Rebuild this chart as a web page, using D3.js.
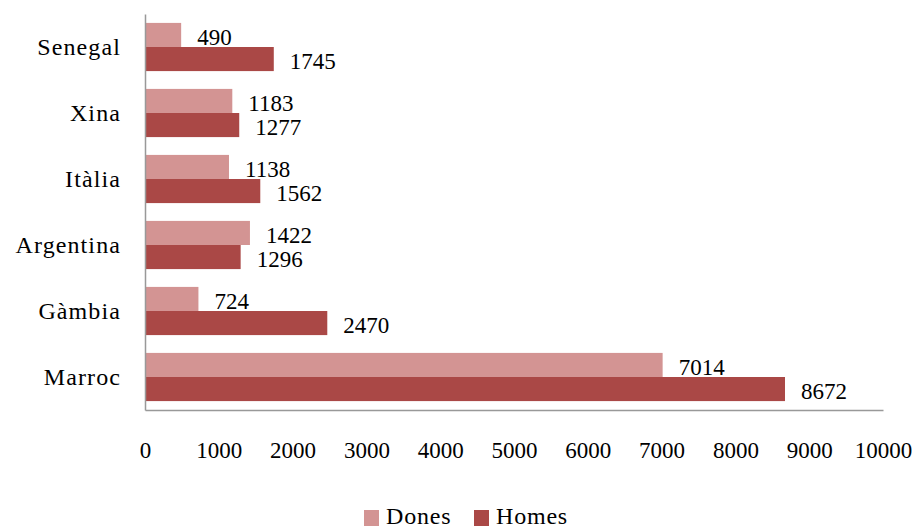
<!DOCTYPE html>
<html>
<head>
<meta charset="utf-8">
<script src="https://cdn.jsdelivr.net/npm/d3@7"></script>
<style>
  body { margin: 0; background: #fff; }
  text { font-family: "Liberation Serif", "Times New Roman", serif; fill: #000; }
</style>
</head>
<body>
<div id="content"><svg width="917" height="529"></svg></div>
<script>
// data
var countries = ["Senegal", "Xina", "Itàlia", "Argentina", "Gàmbia", "Marroc"];
var dones = [490, 1183, 1138, 1422, 724, 7014];
var homes = [1745, 1277, 1562, 1296, 2470, 8672];
var series = ["Dones", "Homes"];
var xTicks = [0, 1000, 2000, 3000, 4000, 5000, 6000, 7000, 8000, 9000, 10000];

var colors = ["#d39493", "#aa4846"];

var svg = d3.select("svg");
var margin = {top: 14, right: 34, bottom: 119, left: 145};
var width = 917 - margin.left - margin.right,
    height = 529 - margin.top - margin.bottom;

var g = svg.append("g")
    .attr("transform", "translate(" + margin.left + "," + margin.top + ")");

var x = d3.scaleLinear().domain([0, 10000]).range([0, width]);
var y = d3.scaleBand().domain(countries).range([0, height]).paddingInner(0.27).paddingOuter(0.135);
var y1 = d3.scaleBand().domain(series).range([0, y.bandwidth()]);

var rows = countries.map(function (c, i) {
    return {country: c, values: [dones[i], homes[i]]};
});

var grp = g.selectAll(".row")
    .data(rows)
    .enter().append("g")
    .attr("transform", function (d) { return "translate(0," + y(d.country) + ")"; });

grp.selectAll("rect")
    .data(function (d) { return d.values.map(function (v, k) { return {s: series[k], v: v, k: k}; }); })
    .enter().append("rect")
    .attr("x", 0)
    .attr("y", function (d) { return y1(d.s); })
    .attr("width", function (d) { return x(d.v); })
    .attr("height", y1.bandwidth())
    .attr("fill", function (d) { return colors[d.k]; });

grp.selectAll(".lbl")
    .data(function (d) { return d.values.map(function (v, k) { return {s: series[k], v: v}; }); })
    .enter().append("text")
    .attr("class", "lbl")
    .attr("x", function (d) { return x(d.v) + 16; })
    .attr("y", function (d) { return y1(d.s) + y1.bandwidth() / 2 + 2; })
    .attr("dy", "0.35em")
    .style("font-size", "23px")
    .text(function (d) { return d.v; });

// axes
var yAxis = g.append("g").call(d3.axisLeft(y).tickSize(0).tickPadding(24));
yAxis.select(".domain").attr("stroke", "#999").attr("stroke-width", 1.5);
yAxis.selectAll("text").style("font-size", "24px").style("letter-spacing", "1.1px");

var xAxis = g.append("g")
    .attr("transform", "translate(0," + height + ")")
    .call(d3.axisBottom(x).tickValues(xTicks).tickSize(0).tickPadding(32).tickFormat(d3.format("d")));
xAxis.select(".domain").attr("stroke", "#999").attr("stroke-width", 1.5);
xAxis.selectAll("text").style("font-size", "23px");

// legend
var legend = svg.append("g").attr("transform", "translate(364,516)");
var lx = [0, 110];
series.forEach(function (s, k) {
    legend.append("rect")
        .attr("x", lx[k]).attr("y", -6)
        .attr("width", 15).attr("height", 16)
        .attr("fill", colors[k]);
    legend.append("text")
        .attr("x", lx[k] + 22).attr("y", 0)
        .attr("dy", "0.35em")
        .style("font-size", "24px")
        .style("letter-spacing", "0.8px")
        .text(s);
});
</script>
</body>
</html>
